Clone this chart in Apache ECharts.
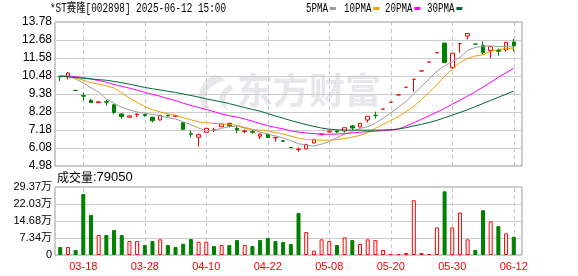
<!DOCTYPE html>
<html><head><meta charset="utf-8">
<script src="https://cdn.jsdelivr.net/npm/echarts@6/dist/echarts.min.js"></script>
<style>html,body{margin:0;padding:0;background:#fff}#c{width:578px;height:276px}</style>
</head><body><div id="c"></div>
<script>
const titleText = '*ST赛隆[002898] 2025-06-12 15:00';
const volTitle = '成交量';
const lastVolumeText = '79050';
const dates = ['03-13','03-14','03-17','03-18','03-19','03-20','03-21','03-24','03-25','03-26','03-27','03-28','03-31',
 '04-01','04-02','04-03','04-07','04-08','04-09','04-10','04-11','04-14','04-15','04-16','04-17','04-18','04-21','04-22','04-23','04-24','04-25','04-28','04-29',
 '05-06','05-07','05-08','05-09','05-12','05-13','05-14','05-15','05-16','05-19','05-20','05-21','05-22','05-23','05-26','05-27','05-28','05-29','05-30',
 '06-03','06-04','06-05','06-06','06-09','06-10','06-11','06-12'];
const dateLabels = ['03-18','03-28','04-10','04-22','05-08','05-20','05-30','06-12'];
const opens = [10.46,10.45,9.60,9.28,8.99,8.86,8.91,8.72,8.16,7.96,
 8.12,8.12,7.96,7.79,8.08,8.02,7.62,6.95,6.74,7.04,
 7.16,7.38,7.59,7.28,7.09,7.08,6.80,6.92,6.70,6.52,
 6.11,5.98,6.02,6.39,6.89,7.06,7.12,7.12,7.43,7.36,
 7.79,8.08,8.46,8.88,9.32,9.79,10.28,10.79,11.33,11.90,
 12.49,10.99,12.46,12.92,12.43,12.35,12.03,12.07,12.07,12.56];
const closes = [10.43,10.66,9.60,9.25,8.86,8.90,8.88,8.25,8.00,8.04,
 8.16,8.06,7.75,8.08,8.04,8.05,7.22,6.92,6.89,7.28,
 7.19,7.55,7.42,7.18,7.12,7.05,6.93,6.72,6.73,6.49,
 6.10,6.01,6.30,6.61,6.94,7.11,7.06,7.32,7.30,7.59,
 8.02,8.06,8.46,8.88,9.32,9.79,10.28,10.79,11.33,11.90,
 11.31,11.87,12.46,13.08,12.43,11.92,12.27,11.99,12.54,12.33];
const lows = [10.17,10.28,9.60,8.97,8.84,8.84,8.67,8.14,7.86,7.93,
 7.97,7.99,7.65,7.77,8.01,7.97,7.20,6.72,6.16,7.02,
 7.05,7.36,7.34,6.98,6.98,6.95,6.63,6.70,6.47,6.44,
 6.09,5.85,6.00,6.37,6.88,7.03,7.00,7.02,7.16,7.35,
 7.63,7.89,8.46,8.88,9.32,9.79,9.52,10.79,11.33,11.90,
 11.31,10.92,11.90,12.72,12.43,11.80,11.56,11.72,11.98,11.98];
const highs = [10.50,10.73,9.60,9.45,9.09,8.92,9.01,8.76,8.18,8.07,
 8.18,8.17,7.98,8.10,8.10,8.09,7.64,7.14,6.94,7.30,
 7.30,7.57,7.61,7.42,7.22,7.20,6.97,6.95,6.74,6.56,
 6.12,6.12,6.31,6.62,6.94,7.15,7.14,7.33,7.48,7.60,
 8.03,8.30,8.46,8.88,9.32,9.79,10.28,10.79,11.33,11.90,
 12.50,11.88,12.46,13.08,12.43,12.60,12.28,12.17,12.55,12.74];
const ma5 = [10.48,10.47,10.30,10.05,9.76,9.50,9.08,8.80,8.57,8.41,
 8.28,8.20,8.13,8.04,7.93,7.85,7.68,7.50,7.30,7.12,
 7.15,7.28,7.38,7.42,7.30,7.18,7.05,6.93,6.82,6.70,
 6.52,6.35,6.25,6.20,6.32,6.47,6.72,6.92,7.10,7.28,
 7.38,7.60,7.90,8.22,8.58,8.92,9.40,9.85,10.30,10.78,
 11.10,11.35,11.62,12.05,12.23,12.30,12.32,12.28,12.28,12.25];
const ma10 = [10.48,10.44,10.37,10.22,10.08,9.98,9.88,9.75,9.45,9.12,
 8.86,8.62,8.42,8.28,8.18,8.08,7.94,7.80,7.68,7.62,
 7.58,7.55,7.52,7.46,7.34,7.22,7.17,7.12,7.02,6.94,
 6.80,6.68,6.60,6.57,6.56,6.56,6.60,6.66,6.75,6.85,
 7.02,7.28,7.52,7.76,8.00,8.30,8.62,9.05,9.48,9.95,
 10.45,10.90,11.30,11.55,11.70,11.78,11.98,12.10,12.15,12.18];
const ma20 = [10.48,10.47,10.44,10.38,10.30,10.20,10.10,9.96,9.85,9.74,
 9.62,9.48,9.36,9.24,9.10,8.98,8.82,8.68,8.56,8.43,
 8.30,8.16,8.05,7.97,7.85,7.72,7.58,7.44,7.34,7.25,
 7.12,7.05,7.00,6.96,6.93,6.92,6.93,6.96,7.00,7.04,
 7.08,7.11,7.14,7.18,7.24,7.42,7.62,7.84,8.05,8.27,
 8.50,8.75,9.00,9.25,9.52,9.80,10.10,10.40,10.68,10.95];
const ma30 = [10.46,10.43,10.39,10.34,10.30,10.26,10.22,10.15,10.07,9.98,
 9.88,9.78,9.70,9.63,9.55,9.47,9.38,9.29,9.19,9.08,
 8.99,8.90,8.79,8.67,8.55,8.44,8.33,8.18,8.04,7.90,
 7.76,7.63,7.51,7.40,7.30,7.23,7.19,7.18,7.17,7.17,
 7.17,7.17,7.18,7.20,7.24,7.32,7.43,7.53,7.64,7.77,
 7.93,8.09,8.25,8.42,8.61,8.80,8.99,9.18,9.37,9.56];
const volumes = [34400,34400,21500,263600,173300,86000,86000,107500,86000,60200,
 60200,43000,60200,67500,43000,34400,48600,68800,57300,57300,
 38700,43000,43000,64500,43000,38700,64500,73100,60200,55900,
 47300,182000,98900,18500,67500,60200,43000,76100,64500,47300,
 67500,64500,21500,4300,4300,8600,236500,8600,4300,119000,
 275200,119000,183500,67500,21500,193500,144800,124700,93300,79050];
const volUp = [0,1,0,0,0,1,0,0,0,1,
 1,0,0,1,0,0,0,0,1,1,
 0,1,0,0,1,0,0,0,0,0,
 0,0,1,1,1,1,0,1,0,1,
 1,1,1,1,1,1,1,1,1,1,
 0,1,1,1,0,0,1,0,1,0];
const priceTicks = ['4.98','6.08','7.18','8.28','9.38','10.48','11.58','12.68','13.78'];
const volTickValues = [0,73425,146850,220275,293700];
const volTickLabels = ['0','7.34万','14.68万','22.03万','29.37万'];
const maNames = ['5PMA','10PMA','20PMA','30PMA'];
const maColors = ['#9c9c9c','#f0a000','#ff00ff','#006a35'];

const SANS = '"Liberation Sans", Arial, "Noto Sans CJK SC", sans-serif';
const MONO = '"Liberation Mono", "DejaVu Sans Mono", "Noto Sans CJK SC", monospace';
const RED = '#ff0000', GREEN = '#008000';
const chart = echarts.init(document.getElementById('c'), null, {renderer: 'canvas'});
const candleData = dates.map((d, i) => [opens[i], closes[i], lows[i], highs[i]]);
const volData = volumes.map((v, i) => ({
  value: v,
  itemStyle: volUp[i] ? {color: '#ffffff', borderColor: RED, borderWidth: 1}
                      : {color: GREEN, borderColor: GREEN, borderWidth: 1}
}));
const vLines = {
  symbol: ['none', 'none'], silent: true, animation: false, z: 1,
  label: {show: false}, emphasis: {disabled: true},
  lineStyle: {type: [4, 3], color: '#c8c8c8', width: 1},
  data: dateLabels.map(d => ({xAxis: d}))
};
function maSeries(k, data) {
  const color = maColors[k];
  return {name: maNames[k], type: 'line', xAxisIndex: 1, yAxisIndex: 1, data, showSymbol: false, symbol: 'none',
    lineStyle: {width: 1, color}, itemStyle: {color}, z: 3, silent: true, animation: false};
}
// legend drawn as text + colour key (text first, key after, as in the reference)
const legendX = [306, 344, 385, 427];
const legendEls = [];
maNames.forEach((n, k) => {
  const tw = n.length * 7.2 * 0.76;
  legendEls.push({type: 'text', x: legendX[k], y: 9, scaleX: 0.76, silent: true,
    style: {text: n, fill: '#000', font: '12px ' + MONO, textVerticalAlign: 'middle'}});
  legendEls.push({type: 'rect', silent: true, shape: {x: legendX[k] + tw + 2, y: 7, width: 6, height: 3},
    style: {fill: maColors[k]}});
});
const option = {
  animation: false,
  backgroundColor: '#ffffff',
  graphic: [
    {type: 'text', x: 50, y: 9, scaleX: 0.78, silent: true,
      style: {text: titleText, fill: '#000', font: '12px ' + MONO, textVerticalAlign: 'middle'}},
    ...legendEls,
    {type: 'text', left: 237, top: 72, z: -10, silent: true,
      style: {text: '东方财富', fill: '#e6e6eb', font: 'bold 36px "Noto Sans CJK SC", sans-serif'}},
    {type: 'polygon', z: -10, silent: true,
      shape: {points: [[214,75],[206,80],[200,89],[199,99],[203,106],[210,110],[206,100],[207,92],[212,86],[219,82],[225,80],[220,76]]},
      style: {fill: '#e6e6eb'}},
    {type: 'polygon', z: -10, silent: true,
      shape: {points: [[230,84],[223,90],[219,98],[221,105],[227,110],[225,101],[227,94],[233,89]]},
      style: {fill: '#e6e6eb'}},
    {type: 'text', left: 57, top: 171, silent: true,
      style: {text: '{a|' + volTitle + '}{b|:' + lastVolumeText + '}',
        rich: {a: {fontSize: 12, fontFamily: '"Noto Sans CJK SC", sans-serif', color: '#000'},
               b: {fontSize: 13, fontFamily: SANS, color: '#000'}}}}
  ],
  grid: [
    {left: 55, top: 22, width: 467, height: 144, show: true, borderColor: '#999', borderWidth: 1, backgroundColor: 'transparent'},
    {left: 56.4, top: 22, width: 461.2, height: 144},
    {left: 55, top: 187, width: 467, height: 68, show: true, borderColor: '#999', borderWidth: 1, backgroundColor: 'transparent'},
    {left: 56.4, top: 187, width: 461.2, height: 68}
  ],
  xAxis: [
    {gridIndex: 0, type: 'value', show: false},
    {gridIndex: 1, type: 'category', data: dates, boundaryGap: true, show: false},
    {gridIndex: 2, type: 'value', show: false},
    {gridIndex: 3, type: 'category', data: dates, boundaryGap: true,
      axisLine: {show: false}, axisTick: {show: false}, splitLine: {show: false},
      axisLabel: {interval: (idx, val) => dateLabels.indexOf(val) >= 0, color: RED, fontSize: 11, margin: 6, fontFamily: SANS}}
  ],
  yAxis: [
    {gridIndex: 0, type: 'value', min: 4.98, max: 13.78, interval: 1.1,
      axisLine: {show: false}, axisTick: {show: false},
      axisLabel: {margin: 3, fontSize: 12, color: '#000', fontFamily: SANS,
        formatter: v => priceTicks.find(t => Math.abs(+t - v) < 0.005) || ''},
      splitLine: {show: true, lineStyle: {color: '#cccccc', width: 1}}},
    {gridIndex: 1, type: 'value', min: 4.98, max: 13.78, show: false, splitLine: {show: false}},
    {gridIndex: 2, type: 'value', min: 0, max: 293700, interval: 73425,
      axisLine: {show: false}, axisTick: {show: false},
      axisLabel: {margin: 3, fontSize: 11, color: '#000', fontFamily: SANS,
        formatter: v => { const k = volTickValues.findIndex(t => Math.abs(t - v) < 1); return k >= 0 ? volTickLabels[k] : ''; }},
      splitLine: {show: true, lineStyle: {color: '#cccccc', width: 1}}},
    {gridIndex: 3, type: 'value', min: 0, max: 293700, show: false, splitLine: {show: false}}
  ],
  series: [
    {name: 'K', type: 'candlestick', xAxisIndex: 1, yAxisIndex: 1, data: candleData, barWidth: 4, z: 2,
      itemStyle: {color: '#ffffff', color0: GREEN, borderColor: RED, borderColor0: GREEN, borderWidth: 1},
      markLine: vLines, silent: true, animation: false},
    maSeries(0, ma5),
    maSeries(1, ma10),
    maSeries(2, ma20),
    maSeries(3, ma30),
    {name: 'VOL', type: 'bar', xAxisIndex: 3, yAxisIndex: 3, data: volData, barWidth: 4, z: 2,
      markLine: vLines, silent: true, animation: false}
  ]
};
chart.setOption(option);
</script></body></html>
